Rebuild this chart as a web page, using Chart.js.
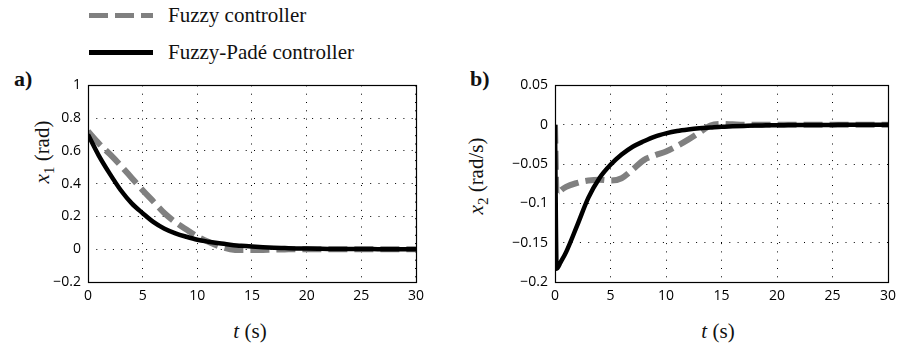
<!DOCTYPE html>
<html lang="en">
<head>
    <meta charset="UTF-8">
    <title>Fuzzy vs Fuzzy-Padé controller</title>
    <script src="https://cdn.jsdelivr.net/npm/chart.js"></script>
    <style>
        body {
            margin: 0;
            width: 906px;
            height: 349px;
            background: #ffffff;
            position: relative;
            overflow: hidden;
            font-family: 'Liberation Serif', 'Times New Roman', serif;
            color: #111;
        }
        .box { position: absolute; }
        .legend-row {
            position: absolute;
            left: 89px;
            height: 24px;
            display: flex;
            align-items: center;
            font-size: 21px;
            white-space: nowrap;
        }
        .legend-line {
            width: 64px;
            margin-right: 15px;
        }
        .dash {
            height: 5px;
            background: repeating-linear-gradient(90deg, #808080 0 19px, transparent 19px 26px);
        }
        .solid {
            height: 5px;
            background: #000;
        }
        .panel {
            position: absolute;
            font-family: 'Liberation Serif', serif;
            font-weight: bold;
            font-size: 22px;
        }
        .ytitle, .xtitle {
            position: absolute;
            font-family: 'Liberation Serif', 'Times New Roman', serif;
            font-size: 21px;
            white-space: nowrap;
            transform: translate(-50%, -50%);
        }
        .ytitle i, .xtitle i { font-family: 'Liberation Serif', serif; font-style: italic; }
        .ytitle { transform: translate(-50%, -50%) rotate(-90deg); }
        .ytitle sub { font-size: 15px; }
    </style>
</head>
<body>
    <div class="legend-row" style="top:3px"><div class="legend-line dash"></div>Fuzzy controller</div>
    <div class="legend-row" style="top:40px"><div class="legend-line solid"></div>Fuzzy-Padé controller</div>

    <div class="panel" style="left:14px; top:66px">a)</div>
    <div class="panel" style="left:470px; top:66px">b)</div>

    <div class="ytitle" style="left:44px; top:152px"><i>x</i><sub>1</sub> (rad)</div>
    <div class="ytitle" style="left:478px; top:176px"><i>x</i><sub>2</sub> (rad/s)</div>
    <div class="xtitle" style="left:250px; top:331px"><i>t</i> (s)</div>
    <div class="xtitle" style="left:718px; top:331px"><i>t</i> (s)</div>

    <div class="box" style="left:0; top:70px; width:430px; height:279px">
        <canvas id="chartA"></canvas>
    </div>
    <div class="box" style="left:450px; top:70px; width:456px; height:279px">
        <canvas id="chartB"></canvas>
    </div>

    <script>
        // panel a) time (s) and x1 (rad)
        const timeA = [0, 1, 2, 3, 4, 5, 6, 7, 8, 9, 10, 11, 12, 13, 14, 15,
                       16, 17, 18, 19, 20, 21, 22, 23, 24, 25, 26, 27, 28, 29, 30];
        const padeA = [0.70, 0.57, 0.46, 0.36, 0.28, 0.22, 0.165, 0.125, 0.097, 0.076, 0.058,
                       0.046, 0.036, 0.028, 0.021, 0.016, 0.012, 0.009, 0.007, 0.005, 0.004,
                       0.003, 0.002, 0.002, 0.001, 0.001, 0.001, 0, 0, 0, 0];
        const fuzzyA = [0.72, 0.645, 0.58, 0.51, 0.435, 0.36, 0.29, 0.22, 0.165, 0.12, 0.078,
                        0.045, 0.018, 0.0, -0.005, -0.005, -0.004, -0.002, -0.001, 0, 0,
                        0, 0, 0, 0, 0, 0, 0, 0, 0, 0];

        // panel b) time (s) and x2 (rad/s)
        const timeB = [0, 0.15, 0.5, 1, 2, 3, 4, 5, 6, 7, 8, 9, 10, 11, 12, 13, 14, 15,
                       16, 17, 18, 19, 20, 21, 22, 23, 24, 25, 26, 27, 28, 29, 30];
        const padeB = [0, -0.183, -0.175, -0.162, -0.128, -0.093, -0.068, -0.051, -0.038,
                       -0.028, -0.021, -0.015, -0.011, -0.008, -0.006, -0.0045, -0.0035,
                       -0.0025, -0.002, -0.0015, -0.001, -0.0008, -0.0006, -0.0005, -0.0004,
                       -0.0003, -0.0002, -0.0002, -0.0001, -0.0001, 0, 0, 0];
        const fuzzyB = [0, -0.09, -0.084, -0.079, -0.074, -0.071, -0.07, -0.071, -0.068,
                        -0.057, -0.045, -0.039, -0.034, -0.027, -0.019, -0.01, -0.001,
                        0.001, 0.0005, 0, 0, 0, 0, 0, 0, 0, 0, 0, 0, 0, 0, 0, 0];

        const xTicks = [0, 5, 10, 15, 20, 25, 30];
        const yTicksA = [-0.2, 0, 0.2, 0.4, 0.6, 0.8, 1];
        const yTicksB = [-0.2, -0.15, -0.1, -0.05, 0, 0.05];

        const toPoints = (xs, ys) => xs.map((x, i) => ({ x: x, y: ys[i] }));

        const fmt = (v) => String(Number(v.toFixed(3))).replace('-', '\u2212');

        const boxPlugin = {
            id: 'box',
            afterDraw(chart) {
                const { ctx, chartArea: a } = chart;
                ctx.save();
                ctx.strokeStyle = '#000';
                ctx.lineWidth = 1.2;
                ctx.strokeRect(Math.round(a.left) + 0.5, Math.round(a.top) + 0.5,
                    Math.round(a.right - a.left), Math.round(a.bottom - a.top));
                ctx.restore();
            }
        };

        function makeChart(id, times, pade, fuzzy, yMin, yMax, yTicks, yWidth, padRight) {
            const dotted = { display: false, dash: [1, 7.3] };
            const grid = { color: '#000', lineWidth: 1, drawTicks: false };
            const tickFont = { family: "'Open Sans', sans-serif", size: 14 };
            return new Chart(document.getElementById(id), {
                type: 'line',
                data: {
                    datasets: [
                        {
                            label: 'Fuzzy-Padé controller',
                            data: toPoints(times, pade),
                            borderColor: '#000',
                            borderWidth: 4.5,
                            pointRadius: 0,
                            cubicInterpolationMode: 'monotone'
                        },
                        {
                            label: 'Fuzzy controller',
                            data: toPoints(times, fuzzy),
                            borderColor: '#808080',
                            borderWidth: 6,
                            borderDash: [19, 7],
                            pointRadius: 0,
                            cubicInterpolationMode: 'monotone'
                        }
                    ]
                },
                options: {
                    responsive: true,
                    maintainAspectRatio: false,
                    animation: false,
                    layout: { padding: { top: 10, right: padRight, left: 0, bottom: 0 } },
                    plugins: { legend: { display: false }, tooltip: { enabled: false } },
                    scales: {
                        x: {
                            type: 'linear',
                            min: 0,
                            max: 30,
                            grid: grid,
                            border: dotted,
                            afterBuildTicks: (s) => { s.ticks = xTicks.map(v => ({ value: v })); },
                            afterFit: (s) => { s.height = 67; },
                            ticks: {
                                padding: 6,
                                color: '#000',
                                font: tickFont,
                                maxRotation: 0,
                                callback: (v) => fmt(v)
                            }
                        },
                        y: {
                            min: yMin,
                            max: yMax,
                            grid: grid,
                            border: dotted,
                            afterBuildTicks: (s) => { s.ticks = yTicks.map(v => ({ value: v })); },
                            afterFit: (s) => { s.width = yWidth; },
                            ticks: {
                                padding: 7,
                                color: '#000',
                                font: tickFont,
                                callback: (v) => fmt(v)
                            }
                        }
                    }
                },
                plugins: [boxPlugin]
            });
        }

        makeChart('chartA', timeA, padeA, fuzzyA, -0.2, 1, yTicksA, 88, 13);
        makeChart('chartB', timeB, padeB, fuzzyB, -0.2, 0.05, yTicksB, 105, 18);
    </script>
</body>
</html>
